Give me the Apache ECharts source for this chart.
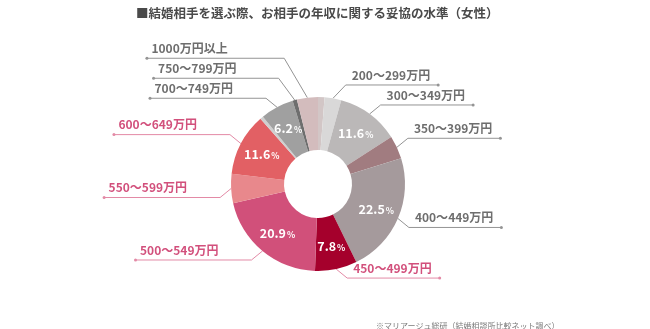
<!DOCTYPE html>
<html><head><meta charset="utf-8">
<script src="https://cdn.jsdelivr.net/npm/echarts@6/dist/echarts.min.js"></script>
<style>html,body{margin:0;padding:0;background:#fff}#c{width:650px;height:329px}</style>
</head><body><div id="c"></div>
<script>
// ---- data ----
const categories = ['200万円未満','200～299万円','300～349万円','350～399万円','400～449万円','450～499万円','500～549万円','550～599万円','600～649万円','650～699万円','700～749万円','750～799万円','1000万円以上'];
const values = [1.2, 3.1, 11.6, 4.3, 22.5, 7.8, 20.9, 5.4, 11.6, 0.6, 6.2, 0.8, 3.9];
const labeledNames = ['200～299万円','300～349万円','350～399万円','400～449万円','450～499万円','500～549万円','550～599万円','600～649万円','700～749万円','750～799万円','1000万円以上'];
const pctShownNames = ['300～349万円','400～449万円','450～499万円','500～549万円','600～649万円','700～749万円'];
const pinkLabelNames = ['450～499万円','500～549万円','550～599万円','600～649万円'];
const sliceColors = ['#d2c6c6','#d9d8d8','#bbb8b8','#a17c80','#a59a9c','#a5002c','#d1507a','#e8888c','#e26064','#cfcfcf','#a0a0a0','#6e6e6e','#d3bcbd'];
const titleText = '■結婚相手を選ぶ際、お相手の年収に関する妥協の水準（女性）';
const sourceText = '※マリアージュ総研（結婚相談所比較ネット調べ）';

// ---- layout constants ----
const FONT = '"Noto Sans CJK JP", "Noto Sans", sans-serif';
const GRAY_TXT = '#6e6e6e', GRAY_LINE = '#949494', PINK_TXT = '#d2507c', PINK_LINE = '#e38aa6';
const CX = 318, CY = 184, R_IN = 34, R_OUT = 87, RISE = 9, GAP = 20;
const RIGHT_W = 88, LEFT_L2 = 116;

// mid angles (clockwise from 12 o'clock), derived from values
const total = values.reduce((a, b) => a + b, 0);
let acc = 0;
const midAngles = values.map(v => { const m = (acc + v / 2) / total * 360; acc += v; return m; });
const isRight = midAngles.map(m => m < 180);

// label line y: offset away from the horizontal mid line; overlaps pushed outward
const lineY = {};
[true, false].forEach(side => {
  const items = categories.map((n, i) => i).filter(i => labeledNames.includes(categories[i]) && isRight[i] === side)
    .map(i => {
      const c = Math.cos(midAngles[i] * Math.PI / 180);
      return {i, y: CY - R_OUT * c - (c >= 0 ? RISE : -RISE), up: c >= 0};
    })
    .sort((a, b) => a.y - b.y);
  const ups = items.filter(t => t.up), downs = items.filter(t => !t.up);
  for (let k = ups.length - 2; k >= 0; k--) ups[k].y = Math.min(ups[k].y, ups[k + 1].y - GAP);
  for (let k = 1; k < downs.length; k++) downs[k].y = Math.max(downs[k].y, downs[k - 1].y + GAP);
  items.forEach(t => { lineY[t.i] = t.y; });
});

const outerData = categories.map((name, i) => {
  const show = labeledNames.includes(name);
  const pink = pinkLabelNames.includes(name);
  const tc = pink ? PINK_TXT : GRAY_TXT, lc = pink ? PINK_LINE : GRAY_LINE;
  const tStyle = {fontSize: 12, fontWeight: 'bold', color: tc, fontFamily: FONT, lineHeight: 17, align: 'left'};
  if (isRight[i]) tStyle.width = RIGHT_W; else tStyle.padding = [0, 0, 0, 6];
  return {
    name, value: values[i],
    itemStyle: {color: sliceColors[i]},
    label: {show, color: tc, formatter: '{t|{b}}\n{d| }',
      rich: {t: tStyle, d: {width: 3, height: 3, lineHeight: 3, fontSize: 3, backgroundColor: lc, borderRadius: 1.5, align: isRight[i] ? 'right' : 'left'}}},
    labelLine: {show, lineStyle: {color: lc, width: 1}}
  };
});
const innerData = categories.map((name, i) => ({name, value: values[i], label: {show: pctShownNames.includes(name)}}));

const chart = echarts.init(document.getElementById('c'), null, {renderer: 'canvas'});
chart.setOption({
  animation: false,
  backgroundColor: '#fff',
  title: [
    {text: titleText, left: 131, top: 2, textStyle: {fontSize: 12.5, fontWeight: 'bold', color: '#4a4a4a', fontFamily: FONT}},
    {text: sourceText, left: 371, top: 317, textStyle: {fontSize: 8, fontWeight: 'normal', color: '#7a7a7a', fontFamily: FONT}}
  ],
  series: [
    {
      type: 'pie', center: [CX, CY], radius: [R_IN, R_OUT], startAngle: 90, clockwise: true,
      avoidLabelOverlap: false, silent: true,
      label: {position: 'outside', fontFamily: FONT},
      labelLine: {length: 15, length2: 10, smooth: false},
      labelLayout: function (p) {
        const pts = p.labelLinePoints;
        if (!pts || lineY[p.dataIndex] == null) return {};
        const p0 = pts[0];
        const by = lineY[p.dataIndex];
        const dy = by - p0[1];
        const right = isRight[p.dataIndex];
        const bx = p0[0] + (right ? 1 : -1) * (11 + 0.4 * Math.max(0, Math.abs(dy) - RISE));
        if (right) {
          const x0 = bx + 6;
          return {x: x0, y: by + 1.5, align: 'left', verticalAlign: 'bottom',
            labelLinePoints: [p0, [bx, by], [x0 + RIGHT_W - 1.5, by]]};
        } else {
          const dotX = bx - (LEFT_L2 + 0.7 * Math.max(0, -dy - RISE));
          return {x: dotX - 1.5, y: by + 1.5, align: 'left', verticalAlign: 'bottom',
            labelLinePoints: [p0, [bx, by], [dotX, by]]};
        }
      },
      data: outerData
    },
    {
      type: 'pie', center: [CX, CY], radius: [R_IN, R_OUT], startAngle: 90, clockwise: true,
      silent: true, z: 3,
      itemStyle: {color: 'rgba(0,0,0,0)'},
      label: {position: 'inside', formatter: p => '{n|' + p.value.toFixed(1) + '}{p|%}',
        rich: {n: {fontSize: 12.5, fontWeight: 'bold', color: '#fff', fontFamily: FONT, lineHeight: 16},
               p: {fontSize: 8.5, fontWeight: 'bold', color: '#fff', fontFamily: FONT, lineHeight: 16, padding: [3, 0, 0, 1]}}},
      labelLine: {show: false},
      emphasis: {disabled: true},
      data: innerData
    }
  ]
});
</script></body></html>
